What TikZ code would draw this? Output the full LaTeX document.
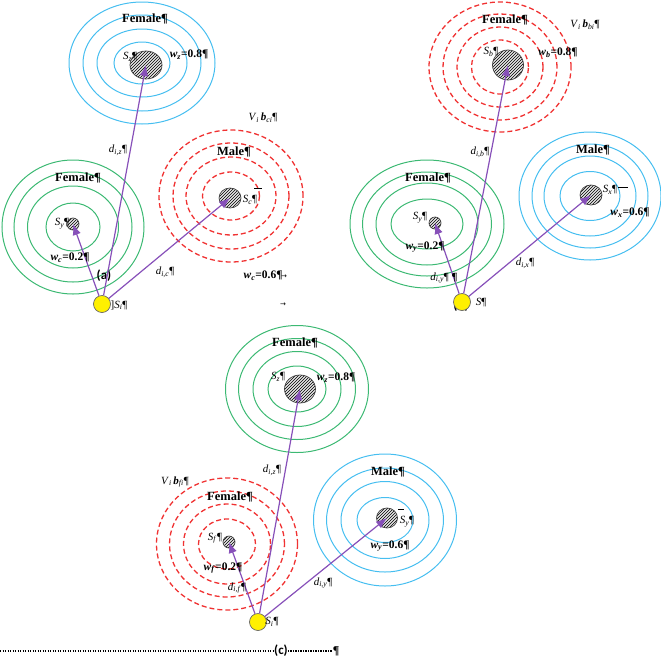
\documentclass[tikz,border=0pt]{standalone}
\usepackage{fontspec}
\setmainfont{Liberation Serif}
\newfontfamily\calib{Carlito}
\newfontfamily\dvs{DejaVu Sans}
\usetikzlibrary{arrows.meta,patterns,shapes.geometric}
\definecolor{ringblue}{RGB}{70,190,240}
\definecolor{ringgreen}{RGB}{60,185,115}
\definecolor{ringred}{RGB}{240,50,50}
\definecolor{arrpurple}{RGB}{135,80,185}
\definecolor{srcyellow}{RGB}{255,240,0}
\newcommand\sbx[2]{\textit{#1}\textsubscript{\textit{#2}}}
\begin{document}
\begin{tikzpicture}[x=1pt,y=-1pt,
 bring/.style={draw=ringblue,line width=1pt},
 gring/.style={draw=ringgreen,line width=1pt},
 rring/.style={draw=ringred,line width=1.3pt,dash pattern=on 5pt off 3pt},
 hatch/.style={ellipse,draw=black!75,line width=0.7pt,inner sep=0pt,preaction={fill=gray!20},pattern=north east lines},
 src/.style={circle,draw=black!60,fill=srcyellow,minimum size=17pt,inner sep=0pt,line width=0.7pt},
 arr/.style={draw=arrpurple,line width=1.2pt,-{Latex[length=11pt,width=8.5pt]}},
 lbl/.style={inner sep=0pt,font=\fontsize{11}{12}\selectfont},
 blbl/.style={inner sep=0pt,font=\fontsize{12.5}{13}\selectfont\bfseries},
 wlbl/.style={inner sep=0pt,font=\fontsize{11.5}{12}\selectfont\bfseries},
 plbl/.style={inner sep=0pt,font=\fontsize{13}{14}\selectfont\calib\bfseries},
 tab/.style={inner sep=0pt,font=\fontsize{7}{8}\selectfont\dvs},
 dots/.style={line width=1.7pt,dash pattern=on 1.4pt off 1.1pt},
 ]
\useasboundingbox (0,0) rectangle (661,659);
% ---------- panel (a) ----------
\foreach \a/\b in {73/61,59/48,45/34,28/21}
  \draw[bring] (142,63) ellipse [x radius=\a pt, y radius=\b pt];
\foreach \a/\b in {71/67,59/55,45.5/41,27/24}
  \draw[gring] (73,227) ellipse [x radius=\a pt, y radius=\b pt];
\foreach \a/\b in {72/66,58/53,45/39,28.5/24}
  \draw[rring] (231,196) ellipse [x radius=\a pt, y radius=\b pt];
\node[hatch,minimum width=32pt,minimum height=28pt] (az) at (146,65) {};
\node[hatch,minimum width=12pt,minimum height=12pt] (ay) at (73,224) {};
\node[hatch,minimum width=22pt,minimum height=20pt] (ac) at (230,198) {};
\node[plbl] (la) at (104,276) {(a)};
\node[src] (ai) at (102,304) {};
\draw[arr] (ai) -- (az.center);
\draw[arr] (ai) -- (ay.center);
\draw[arr] (ai) -- (ac.center);
\node[blbl] at (145,19) {Female¶};
\node[lbl] at (130,57) {\sbx{S}{z}¶};
\node[wlbl] at (189,55) {\textit{w}\textsubscript{\textit{z}}=0.8¶};
\node[lbl] at (263,118) {\textit{V}\textsubscript{\textit{i}}\,\textbf{\textit{b}}\textsubscript{\textit{ci}}¶};
\node[blbl] at (234,152) {Male¶};
\node[lbl] at (250,200) {\sbx{S}{c}¶};
\draw[black,line width=0.7pt] (254,188) -- (262,188);
\node[blbl] at (78,178) {Female¶};
\node[lbl] at (62,224) {\sbx{S}{y}¶};
\node[wlbl] at (70,258) {\textit{w}\textsubscript{\textit{c}}=0.2¶};
\node[lbl] at (165,272) {\sbx{d}{i,c}¶};
\node[lbl] at (118,150) {\sbx{d}{i,z}¶};
\node[wlbl] at (263,276) {\textit{w}\textsubscript{\textit{c}}=0.6¶};
\node[tab] at (284,277) {→};
\node[tab] at (283,305) {→};
\node[lbl] at (119,305) {]\sbx{S}{i}¶};
% ---------- panel (b) ----------
\foreach \a/\b in {71/65,57/53,43/40,28.5/27}
  \draw[rring] (500,67) ellipse [x radius=\a pt, y radius=\b pt];
\foreach \a/\b in {77/64,64.5/52,51/41,36/25}
  \draw[gring] (427,224) ellipse [x radius=\a pt, y radius=\b pt];
\foreach \a/\b in {71/64,58/52,46/40,30/24.5}
  \draw[bring] (590,196) ellipse [x radius=\a pt, y radius=\b pt];
\node[hatch,minimum width=31pt,minimum height=30pt] (bb) at (508,65) {};
\node[hatch,minimum width=12pt,minimum height=12pt] (by) at (435,223) {};
\node[hatch,minimum width=22pt,minimum height=20pt] (bx) at (591,195) {};
\node[plbl] (lb) at (461,306) {(b)};
\node[src] (bi) at (462,302) {};
\draw[arr] (bi) -- (bb.center);
\draw[arr] (bi) -- (by.center);
\draw[arr] (bi) -- (bx.center);
\node[blbl] at (505,20) {Female¶};
\node[lbl] at (585,25) {\textit{V}\textsubscript{\textit{i}}\,\textbf{\textit{b}}\textsubscript{\textit{bi}}¶};
\node[lbl] at (491,52) {\sbx{S}{b}¶};
\node[wlbl] at (558,53) {\textit{w}\textsubscript{\textit{b}}=0.8¶};
\node[lbl] at (480,152) {\sbx{d}{i,b}¶};
\node[blbl] at (428,178) {Female¶};
\node[lbl] at (420,218) {\sbx{S}{y}¶};
\node[wlbl] at (425,247) {\textit{w}\textsubscript{\textit{y}}=0.2¶};
\node[lbl] at (444,278) {\sbx{d}{i,y}¶ \textbf{¶}};
\node[blbl] at (593,150) {Male¶};
\node[lbl] at (610,190) {\sbx{S}{x}¶};
\draw[black,line width=0.7pt] (618,187) -- (628,187);
\node[wlbl] at (630,213) {\textit{w}\textsubscript{\textit{x}}=0.6¶};
\node[lbl] at (525,263) {\sbx{d}{i,x}¶};
\node[lbl] at (481,303) {\textit{S}¶};
% ---------- panel (c) ----------
\foreach \a/\b in {71.5/63.5,58.5/50.5,44/37.5,29/23}
  \draw[gring] (297,389) ellipse [x radius=\a pt, y radius=\b pt];
\foreach \a/\b in {70.5/66,57.5/53,43.5/40,28.5/25}
  \draw[rring] (227,544) ellipse [x radius=\a pt, y radius=\b pt];
\foreach \a/\b in {71.5/66,58.5/52,44/38.5,28/22.5}
  \draw[bring] (385,520) ellipse [x radius=\a pt, y radius=\b pt];
\node[hatch,minimum width=31pt,minimum height=28pt] (cz) at (300,389) {};
\node[hatch,minimum width=12pt,minimum height=12pt] (cf) at (229,542) {};
\node[hatch,minimum width=21pt,minimum height=20pt] (cy) at (387,518) {};
\node[src] (ci) at (258,622) {};
\draw[arr] (ci) -- (cz.center);
\draw[arr] (ci) -- (cf.center);
\draw[arr] (ci) -- (cy.center);
\node[blbl] at (295,343) {Female¶};
\node[lbl] at (278,377) {\sbx{S}{z}¶};
\node[wlbl] at (336,378) {\textit{w}\textsubscript{\textit{z}}=0.8¶};
\node[lbl] at (272,470) {\sbx{d}{i,z}¶};
\node[lbl] at (175,482) {\textit{V}\textsubscript{\textit{i}}\,\textbf{\textit{b}}\textsubscript{\textit{fi}}¶};
\node[blbl] at (230,497) {Female¶};
\node[blbl] at (388,472) {Male¶};
\node[lbl] at (215,538) {\sbx{S}{f}¶};
\node[lbl] at (407,522) {\sbx{S}{y}¶};
\draw[black,line width=0.7pt] (398,509) -- (404,509);
\node[wlbl] at (223,568) {\textit{w}\textsubscript{\textit{f}}=0.2¶};
\node[wlbl] at (390,546) {\textit{w}\textsubscript{\textit{y}}=0.6¶};
\node[lbl] at (237,588) {\sbx{d}{i,f}¶};
\node[lbl] at (323,583) {\sbx{d}{i,y}¶};
\node[lbl] at (272,622) {\sbx{S}{i}¶};
% ---------- bottom line ----------
\node[plbl] (lc) at (281,651) {(c)};
\node[inner sep=0pt,font=\fontsize{12}{13}\selectfont\bfseries] (pil) at (336,651) {¶};
\coordinate (d0) at (0,651);
\draw[dots] (d0) -- (lc.west);
\draw[dots] (lc.east) -- (pil.west);
\end{tikzpicture}
\end{document}
